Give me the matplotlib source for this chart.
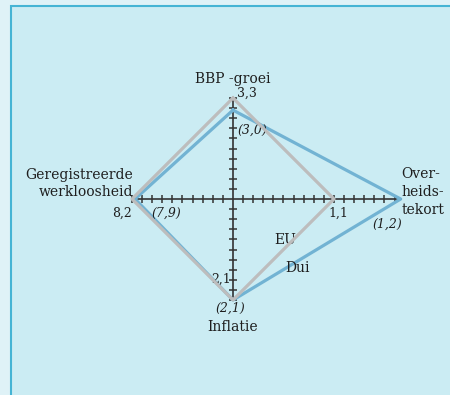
import matplotlib.pyplot as plt
import matplotlib as mpl
from matplotlib.patches import Rectangle

mpl.rcParams['font.family'] = 'DejaVu Serif'

# axis order: up, right, down, left
axis_names = ["BBP -groei", "Over-\nheids-\ntekort", "Inflatie", "Geregistreerde\nwerkloosheid"]
eu_labels = ["3,3", "1,1", "2,1", "8,2"]
dui_labels = ["(3,0)", "(1,2)", "(2,1)", "(7,9)"]
# distance from the centre, EU value = 1 on every axis
eu_pos = [1.0, 1.0, 1.0, 1.0]
dui_pos = [0.88, 1.66, 1.0, 0.97]
series_names = ["EU", "Dui"]

EU_COLOR = '#bdbdbd'
DUI_COLOR = '#72b3d3'
DIRS = [(0, 1), (1, 0), (0, -1), (-1, 0)]

W, H = 450, 395
OX, OY = 233, 199   # centre in pixels
SCALE = 101.0       # pixels per unit

fig = plt.figure(figsize=(W / 100, H / 100), dpi=100)
fig.patch.set_facecolor('#dff2f7')

ax = fig.add_axes([0, 0, 1, 1])
ax.set_xlim(-OX / SCALE, (W - OX) / SCALE)
ax.set_ylim(-(H - OY) / SCALE, OY / SCALE)
ax.axis('off')
ax.patch.set_alpha(0)
ax.add_patch(Rectangle((10.5 / W, -0.1), 1.2, 1.1 - 5.5 / H, transform=fig.transFigure,
                       facecolor='#cbecf3', edgecolor='#45b4d4', linewidth=1.5,
                       zorder=0, clip_on=False))


def corners(pos):
    xs = [d[0] * r for d, r in zip(DIRS, pos)]
    ys = [d[1] * r for d, r in zip(DIRS, pos)]
    return xs + xs[:1], ys + ys[:1]


# axes with tick marks every 1/10 of the EU value
ax.plot([-eu_pos[3], dui_pos[1]], [0, 0], color='#333333', lw=1.2, zorder=2)
ax.plot([0, 0], [-eu_pos[2], eu_pos[0]], color='#333333', lw=1.2, zorder=2)
xt = [i / 10 for i in range(-10, 17) if i != 0]
yt = [i / 10 for i in range(-10, 11) if i != 0]
ax.plot(xt, [0] * len(xt), ls='none', marker='|', ms=6, mew=1.1, color='#333333', zorder=2)
ax.plot([0] * len(yt), yt, ls='none', marker='_', ms=6, mew=1.1, color='#333333', zorder=2)

x, y = corners(dui_pos)
ax.plot(x, y, color=DUI_COLOR, lw=2.3, zorder=3)
x, y = corners(eu_pos)
ax.plot(x, y, color=EU_COLOR, lw=2.3, zorder=4)

fs = 10
sfs = 9
tc = '#1e1e1e'
# axis names
ax.text(0, 1.19, axis_names[0], ha='center', va='center', fontsize=fs, color=tc)
ax.text(1.67, 0.07, axis_names[1], ha='left', va='center', fontsize=fs, linespacing=1.35, color=tc)
ax.text(0, -1.27, axis_names[2], ha='center', va='center', fontsize=fs, color=tc)
ax.text(-0.99, 0.15, axis_names[3], ha='right', va='center', fontsize=fs, linespacing=1.25, color=tc)

# EU values
ax.text(0.04, 1.05, eu_labels[0], ha='left', va='center', fontsize=sfs, color=tc)
ax.text(1.04, -0.14, eu_labels[1], ha='center', va='center', fontsize=sfs, color=tc)
ax.text(-0.02, -0.79, eu_labels[2], ha='right', va='center', fontsize=sfs, color=tc)
ax.text(-1.0, -0.14, eu_labels[3], ha='right', va='center', fontsize=sfs, color=tc)

# Dui values
ax.text(0.04, 0.68, dui_labels[0], ha='left', va='center', fontsize=sfs, style='italic', color=tc)
ax.text(1.38, -0.25, dui_labels[1], ha='left', va='center', fontsize=sfs, style='italic', color=tc)
ax.text(-0.03, -1.08, dui_labels[2], ha='center', va='center', fontsize=sfs, style='italic', color=tc)
ax.text(-0.81, -0.14, dui_labels[3], ha='left', va='center', fontsize=sfs, style='italic', color=tc)

# series names
ax.text(0.41, -0.41, series_names[0], ha='left', va='center', fontsize=fs, color=tc)
ax.text(0.52, -0.68, series_names[1], ha='left', va='center', fontsize=fs, color=tc)

fig.savefig('out.png', dpi=100, facecolor=fig.get_facecolor())
